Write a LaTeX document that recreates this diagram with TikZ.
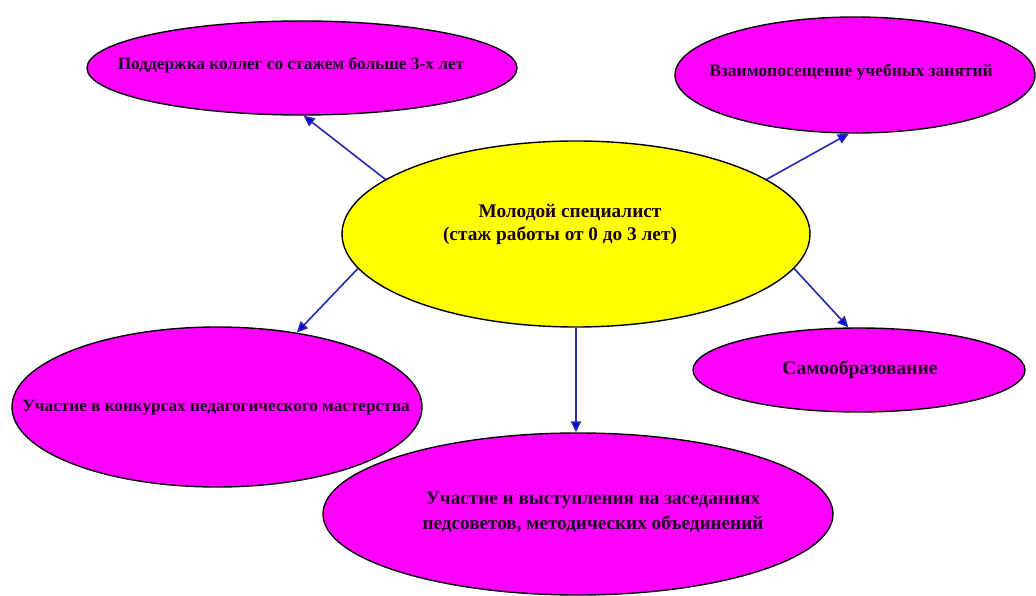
\documentclass[tikz,border=0pt]{standalone}
\usepackage{fontspec}
\setmainfont{Liberation Serif}
\usetikzlibrary{arrows.meta,shapes.geometric}
\definecolor{mag}{RGB}{255,0,255}
\definecolor{yel}{RGB}{255,255,0}
\definecolor{linecol}{RGB}{40,40,175}
\definecolor{tipcol}{RGB}{0,0,255}
\definecolor{txt}{RGB}{25,0,30}
\tikzset{
  oval/.style={ellipse, draw=black, line width=1.4pt, inner sep=0pt},
  magoval/.style={oval, fill=mag},
  lbl/.style={font=\bfseries, text=txt, align=center, inner sep=0pt},
  conn/.style={draw=linecol, line width=1.6pt, -{Triangle[length=11pt,width=10pt,fill=tipcol]}},
}
\begin{document}
\begin{tikzpicture}[x=1pt,y=-1pt]
\useasboundingbox (0,0) rectangle (1036,596);
\fill[white] (0,0) rectangle (1036,596);
% outer ovals
\node[magoval, minimum width=430pt, minimum height=94pt] (tl) at (302,68) {};
\node[magoval, minimum width=360pt, minimum height=116pt] (tr) at (855,75) {};
\node[oval, fill=yel, minimum width=468pt, minimum height=186pt] (c) at (576,234) {};
\node[magoval, minimum width=410pt, minimum height=160pt] (l) at (217,407) {};
\node[magoval, minimum width=332pt, minimum height=84pt] (r) at (859,370) {};
\node[magoval, minimum width=510pt, minimum height=162pt] (b) at (578,514) {};
% texts
\node[lbl, font=\bfseries\fontsize{17.3}{20}\selectfont] (tlt) at (291,65) {Поддержка коллег со стажем больше 3-х лет};
\node[lbl, font=\bfseries\fontsize{17.5}{20}\selectfont] (trt) at (851,72) {Взаимопосещение учебных занятий};
\node[lbl, font=\bfseries\fontsize{19.3}{23}\selectfont] (ct) at (560,224) {\hspace*{20pt}Молодой специалист\\(стаж работы от 0 до 3 лет)};
\node[lbl, font=\bfseries\fontsize{17.2}{20}\selectfont] (lt) at (216,408) {Участие в конкурсах педагогического мастерства};
\node[lbl, font=\bfseries\fontsize{19.5}{22}\selectfont] (rt) at (860,370) {Самообразование};
\node[lbl, font=\bfseries\fontsize{19.2}{25}\selectfont] (bt) at (593,512) {Участие и выступления на заседаниях\\педсоветов, методических объединений};
% connectors
\draw[conn] (c.164) -- (tl.-88);
\draw[conn] (c.16) -- (tr.-96);
\draw[conn] (c.-171) -- (l.43);
\draw[conn] (c.-9) -- (r.104);
\draw[conn] (c.south) -- (c.south |- b.north);
\end{tikzpicture}
\end{document}
